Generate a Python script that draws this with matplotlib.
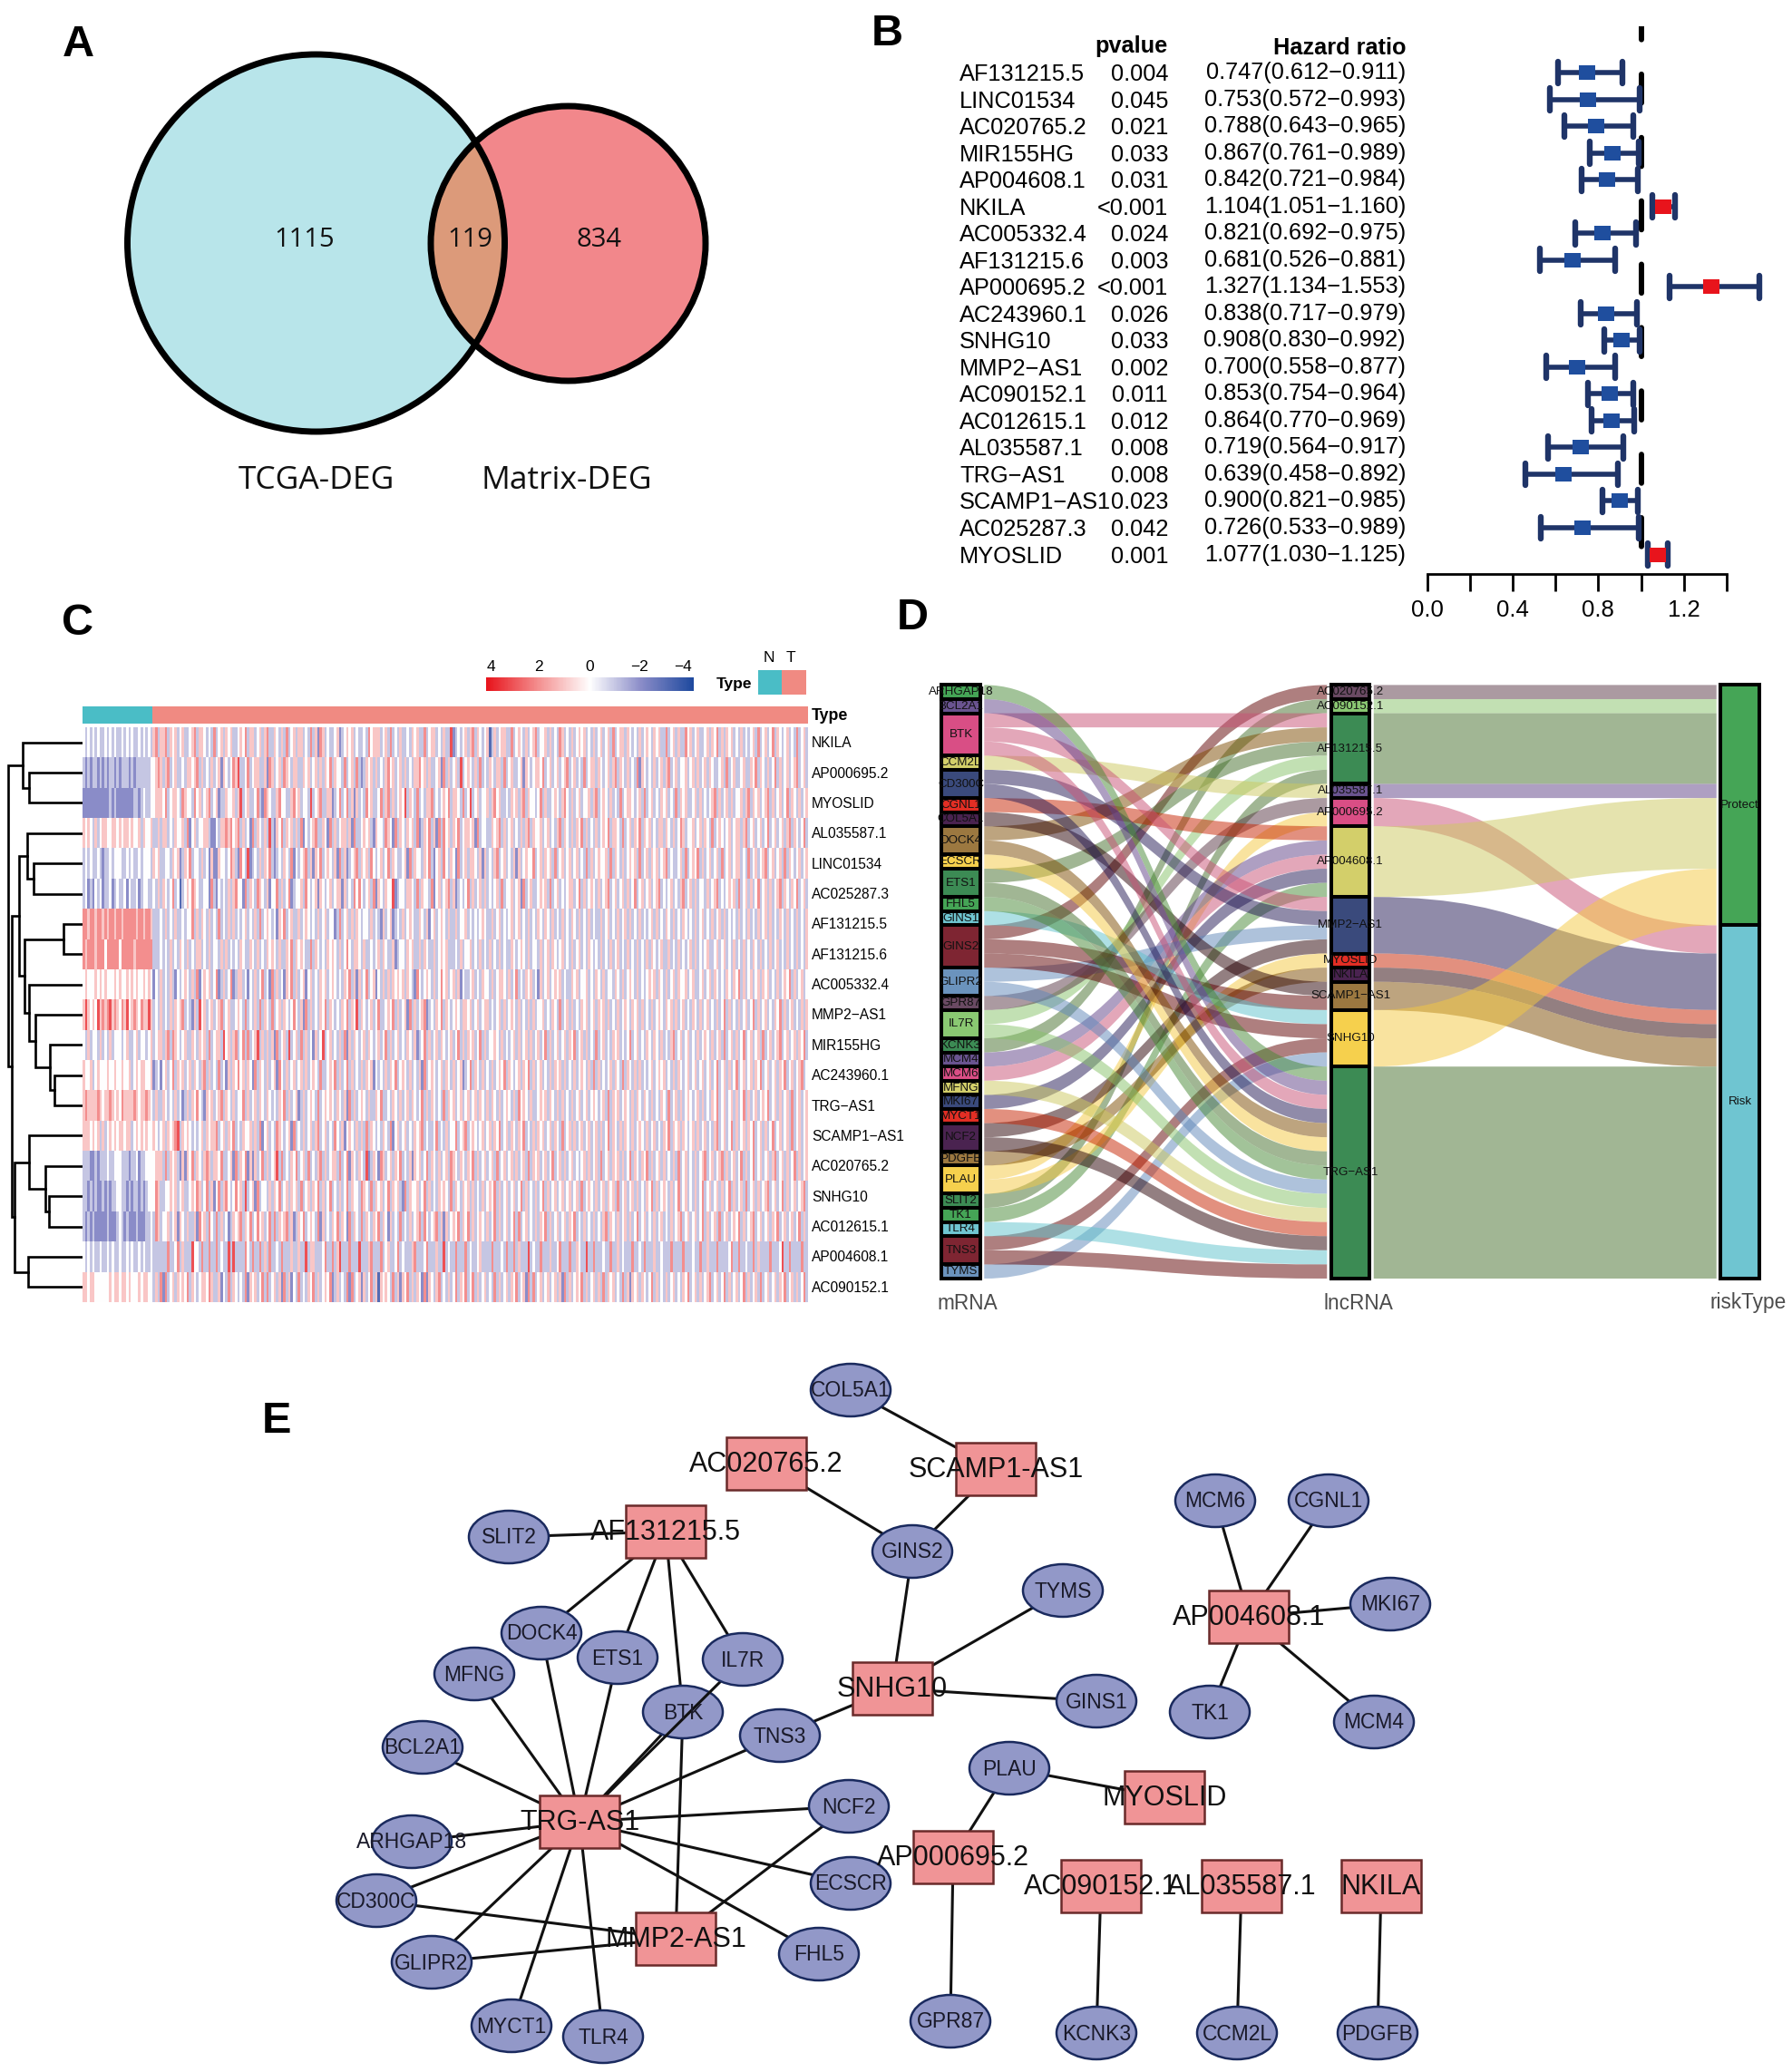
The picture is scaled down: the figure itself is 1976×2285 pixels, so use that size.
import matplotlib
matplotlib.use('Agg')
import matplotlib.pyplot as plt
import numpy as np
from matplotlib.colors import LinearSegmentedColormap, ListedColormap
from matplotlib.patches import Circle, Ellipse, PathPatch, Rectangle
from matplotlib.path import Path

plt.rcParams['font.family'] = ['Liberation Sans', 'DejaVu Sans']

W, H = 1976, 2285
MINUS = '\u2212'

# Panel A
venn_labels = ['TCGA-DEG', 'Matrix-DEG']
venn_counts = ['1115', '119', '834']

# Panel B
cox_genes = ['AF131215.5', 'LINC01534', 'AC020765.2', 'MIR155HG', 'AP004608.1', 'NKILA',
             'AC005332.4', 'AF131215.6', 'AP000695.2', 'AC243960.1', 'SNHG10', 'MMP2-AS1',
             'AC090152.1', 'AC012615.1', 'AL035587.1', 'TRG-AS1', 'SCAMP1-AS1', 'AC025287.3',
             'MYOSLID']
cox_p = ['0.004', '0.045', '0.021', '0.033', '0.031', '<0.001', '0.024', '0.003', '<0.001',
         '0.026', '0.033', '0.002', '0.011', '0.012', '0.008', '0.008', '0.023', '0.042', '0.001']
cox_hr = [0.747, 0.753, 0.788, 0.867, 0.842, 1.104, 0.821, 0.681, 1.327, 0.838, 0.908, 0.700,
          0.853, 0.864, 0.719, 0.639, 0.900, 0.726, 1.077]
cox_low = [0.612, 0.572, 0.643, 0.761, 0.721, 1.051, 0.692, 0.526, 1.134, 0.717, 0.830, 0.558,
           0.754, 0.770, 0.564, 0.458, 0.821, 0.533, 1.030]
cox_high = [0.911, 0.993, 0.965, 0.989, 0.984, 1.160, 0.975, 0.881, 1.553, 0.979, 0.992, 0.877,
            0.964, 0.969, 0.917, 0.892, 0.985, 0.989, 1.125]

# Panel C, one digit per column read by eye: 4 is zero, 0 is -4, 8 is +4
heat_genes = ['NKILA', 'AP000695.2', 'MYOSLID', 'AL035587.1', 'LINC01534', 'AC025287.3',
              'AF131215.5', 'AF131215.6', 'AC005332.4', 'MMP2-AS1', 'MIR155HG', 'AC243960.1',
              'TRG-AS1', 'SCAMP1-AS1', 'AC020765.2', 'SNHG10', 'AC012615.1', 'AP004608.1',
              'AC090152.1']
n_normal = 29
n_columns = 300
heat_rows = [
    '43434343343434334343433434343'
    '56355635453453345635543436345354533454635534535633543536345355343635265343345234545343343645553453634353343545336345534353372343453563543451353455336345435345634453534365343534545343534534536345535434353454354533634535336453453345354635354534353434536345346354345343634534534'
    '35436345345634534354635435463454353463545345634',
    '32323323232332323332323333334'
    '45653563453343554563534353452543465733463455335265345365435533545345353546354436345363235453534356453453534355645353345263534537345435363435435536345334525434554634534534563453436345535434535635435343625434353453563453445345353453543345363453345335463'
    '54353463534534563453534635434535463534535634534635345343563453534635434535463534',
    '22222222222323222222233234334'
    '45554634554365443645345634523354453573453346326543356443356453443734563355234634635253436453346356353454735436343556343454635543634734534453564533435453563544346353345435643534534453563454353436345543453634534354534363545334535343456353453534453563545'
    '34563534534635435345634534536345345354635434536345345346353453463543456345345634',
    '54543534554455454554544535445'
    '33535534354453624534455322435565645635342635435373254635453536243456335426353455352633454532544365426354354536235463526364535463455452634433545635345343535635445345343563543535463534353454635543634535463545343553543534653445345354363454345345535634534'
    '53463453453563543463534534635345343563453463545345634534635343546354534634534534',
    '34343343233434443343433434443'
    '54533443545235463443534252254434653264372343535463234354362434563525463454352635234563545364345346354334526354435463245364354263453554352534356345343525345446345354536345345345343635345445363543534545363453545345634334536345463534534536345345534'
    '36345345634534536354345345634534563453545346354345634535463453453463534563453453',
    '34232434233423433424334234433'
    '43535434634134546543344263243435356442635436543524463534623445364345254345345525343646434536254354472344355436354436245345635234346353453534345363445345263453345453634534345534635345435345634534535346345345345634345343563453534435345634345'
    '45363453534634535345635435463453453563453634534535463453463543534634536345345354635345346345',
    '66566566565665665666665665665'
    '33343534353343446353543534363435353434534353634543425463453353454343534534423634535354344353432534523435345433543524534543533534453434345433534534345345343534354354353435343543534353433534534353453534353434535343543534354343534534353453534'
    '34353435343534535343543534353435343543534534353435345343534353453534343534534353435345',
    '65666566646666646666656666666'
    '33343435343543534355343534435353434354335435343545435335463545433635434354543534643554353343453543352344354533535433534545333435344534353435343534335434543534435345354345343534534354343534353453435343534353543453353435343453534345334534'
    '53435343534354353435345343534353435435343534534353435345343534354353435343534534353435',
    '45444545454445454454545445454'
    '24353435324345435362454534623534623553424353463426353425463534524534354534543435463525346345243535354545354326434543534645345352433453435443534554353463435453425345345453433545344534354353443543534543534345453543534535445345334534535434'
    '35435463534534535453435345463534534535463453435453463534534635345345354353463534535434',
    '57545475656756546574565465575'
    '34353435354563432537453453456345334543634353635436345354346435263534354635434354635473543453463345463534526353456234354635434543554534534553434535345435343535344534354363453534354534535453534353454354535343534543545353453435435345343'
    '53463534353453463534534354635345343535463453453546345345354353463453534635345343546345345',
    '43534435343534443453345344345'
    '34553563654345335435453634553745356346363457353535263453734536353425347345343536253543453543453463534534354352346353453543453463535453463534454353434535345353453463534534535463453534363453435453434634534354354353435634534534353454353'
    '45363453534634534536345345634534535463453453463534534563453453463534536345345346353453',
    '54453454445445445445345455445'
    '23424534635453453543563534363425354645354263543534526435345345353454363345463534635343535452434353546345435343526345434535435345234635435343534546354345354635345343535453534353454353635343453543635435353434534545343535434534534534'
    '53463453534634534535463453453546345345634534536345345354635345345346353453463534534635',
    '56555565455654546555565455654'
    '35335434353423535464325453456354353446353453543543435463534523534543634545435435263534543533546334354353453543463535434363545345345345354353543534543536454353345453543535343534534534543453635453454353543543534354363453534543453534'
    '35463453453534635345345463453534536345345354634534534635345345363453534563453534635345',
    '55545453534545455455345454544'
    '54345354567354543434535455634535463435445353624534365434526343534535634534364352454353536354343543624534534354563433463435344634563454345345354634535435463435354534535436345353453453453534635435354353454353453435463545354345353453'
    '43563453463534535463453534634534536345345346353453546345345346353453463534534635345345',
    '33322323334334443332334233444'
    '45553635453252546354356535546334526354625253463534573634354634536343563534553634625435437235426534535463435254534635435345365435435463534534536345345353453635453453463453534534345353453634535453534635435463534535343536345343534'
    '56345345635345346353463453453563453534635345346354353453463534534536345345346354534534',
    '33232322323233443323233232344'
    '46533445453453345465346352463564346453734526344353546345354536345354635346343534635443654363545346354532635445346353435454363543545353435345463534534534635343534635345345345345363454353453545363453453534354635345435346345343'
    '53463453453534635345363453534563453463534534563453546345345346353453546345345363453534',
    '32323222223222343232223222334'
    '36534453452543533526453643635342354563546346453463635456352354634543625343546354263543635435463542534363435345636434563525345463546353454353463534534636345343535463534534535463435343534356354353453534634534353453435345634'
    '53453463534536345345463534563453453546345345346353453463534536345345463534534635345345',
    '43434334334343343343433434334'
    '33333363346353337443633633634337373333643633635363343633353353373553334633635733363337333563336345334634333563334633353373433633363433453333633343633635333734336333533463336335433733633343363353433363343633353343336333'
    '36333433633533363333463363343363533336333473363333633463353333643633363433353336333463363',
    '55455444444545545545444545544'
    '35362634535454635434554653352436354343625453463634535263524363435463534546235343626345253463515454363525463535426254356343534635463463534534363534535463452636345345345352635345463534535363545343635254535434635343534534'
    '35463453534563453463534534635345363453453546345353463534536345345463534534563453536345',
]

# Panel D and E share the same links between mRNA and lncRNA
lnc_links = {
    'AC020765.2': ['GINS2'],
    'AC090152.1': ['KCNK3'],
    'AF131215.5': ['BTK', 'DOCK4', 'ETS1', 'IL7R', 'SLIT2'],
    'AL035587.1': ['CCM2L'],
    'AP000695.2': ['GPR87', 'PLAU'],
    'AP004608.1': ['CGNL1', 'MCM4', 'MCM6', 'MKI67', 'TK1'],
    'MMP2-AS1': ['BTK', 'CD300C', 'GLIPR2', 'NCF2'],
    'MYOSLID': ['PLAU'],
    'NKILA': ['PDGFB'],
    'SCAMP1-AS1': ['COL5A1', 'GINS2'],
    'SNHG10': ['GINS1', 'GINS2', 'TNS3', 'TYMS'],
    'TRG-AS1': ['ARHGAP18', 'BCL2A1', 'BTK', 'CD300C', 'DOCK4', 'ECSCR', 'ETS1', 'FHL5',
                'GLIPR2', 'IL7R', 'MFNG', 'MYCT1', 'NCF2', 'TLR4', 'TNS3'],
}
protect_lnc = ['AC020765.2', 'AC090152.1', 'AF131215.5', 'AL035587.1', 'AP004608.1', 'SNHG10']
risk_lnc = ['AP000695.2', 'MMP2-AS1', 'MYOSLID', 'NKILA', 'SCAMP1-AS1', 'TRG-AS1']

# Panel E layout, in image pixels
lnc_x = {'AC020765.2': 845, 'AC090152.1': 1214, 'AF131215.5': 734, 'AL035587.1': 1369,
         'AP000695.2': 1051, 'AP004608.1': 1377, 'MMP2-AS1': 745, 'MYOSLID': 1284,
         'NKILA': 1523, 'SCAMP1-AS1': 1098, 'SNHG10': 984, 'TRG-AS1': 639}
lnc_y = {'AC020765.2': 1614, 'AC090152.1': 2080, 'AF131215.5': 1689, 'AL035587.1': 2080,
         'AP000695.2': 2048, 'AP004608.1': 1783, 'MMP2-AS1': 2138, 'MYOSLID': 1982,
         'NKILA': 2080, 'SCAMP1-AS1': 1620, 'SNHG10': 1862, 'TRG-AS1': 2009}
mrna_x = {'ARHGAP18': 454, 'BCL2A1': 466, 'BTK': 753, 'CCM2L': 1364, 'CD300C': 415, 'CGNL1': 1465,
          'COL5A1': 938, 'DOCK4': 597, 'ECSCR': 938, 'ETS1': 681, 'FHL5': 903, 'GINS1': 1209,
          'GINS2': 1006, 'GLIPR2': 476, 'GPR87': 1048, 'IL7R': 819, 'KCNK3': 1209, 'MCM4': 1515,
          'MCM6': 1340, 'MFNG': 523, 'MKI67': 1533, 'MYCT1': 564, 'NCF2': 936, 'PDGFB': 1519,
          'PLAU': 1113, 'SLIT2': 561, 'TK1': 1334, 'TLR4': 665, 'TNS3': 860, 'TYMS': 1172}
mrna_y = {'ARHGAP18': 2031, 'BCL2A1': 1927, 'BTK': 1888, 'CCM2L': 2242, 'CD300C': 2096, 'CGNL1': 1655,
          'COL5A1': 1533, 'DOCK4': 1801, 'ECSCR': 2077, 'ETS1': 1828, 'FHL5': 2155, 'GINS1': 1876,
          'GINS2': 1711, 'GLIPR2': 2164, 'GPR87': 2229, 'IL7R': 1830, 'KCNK3': 2242, 'MCM4': 1899,
          'MCM6': 1655, 'MFNG': 1846, 'MKI67': 1769, 'MYCT1': 2234, 'NCF2': 1992, 'PDGFB': 2242,
          'PLAU': 1950, 'SLIT2': 1695, 'TK1': 1888, 'TLR4': 2246, 'TNS3': 1914, 'TYMS': 1754}

# stratum colours for panel D
GREEN, PURPLE, PINK, KHAKI = '#45A556', '#6A5490', '#D94E85', '#D3CF6A'
NAVY, RED, DPURPLE, BROWN = '#3A4A7C', '#E22E24', '#4A2350', '#9C7840'
YELLOW, DGREEN, CYAN, MAROON = '#F6D04D', '#3C8B54', '#6FC5D1', '#7E2532'
STEEL, MAUVE, LGREEN = '#6B93BD', '#6A4A63', '#8AC872'
mrna_colors = [GREEN, PURPLE, PINK, KHAKI, NAVY, RED, DPURPLE, BROWN, YELLOW, DGREEN, GREEN, CYAN,
               MAROON, STEEL, MAUVE, LGREEN, DGREEN, PURPLE, PINK, KHAKI, NAVY, RED, DPURPLE, BROWN,
               YELLOW, DGREEN, GREEN, CYAN, MAROON, STEEL]
lnc_colors = [MAUVE, LGREEN, DGREEN, PURPLE, PINK, KHAKI, NAVY, RED, DPURPLE, BROWN, YELLOW, DGREEN]
risk_colors = [GREEN, CYAN]
# the bands look more muted than their strata
flow_colors = {GREEN: '#478935', PURPLE: '#5F4187', PINK: '#C95175', KHAKI: '#CDC95F', NAVY: '#231955',
               RED: '#C72300', DPURPLE: '#290005', BROWN: '#7D4B00', YELLOW: '#F5C941', DGREEN: '#456F2B',
               CYAN: '#5FC3CD', MAROON: '#5F0000', STEEL: '#5F87B9', MAUVE: '#593745', LGREEN: '#87C369'}


def px_axes(x0, y0, x1, y1):
    # axes placed by image pixels, y counted from the top
    return fig.add_axes([x0 / W, 1 - y1 / H, (x1 - x0) / W, (y1 - y0) / H])


def mdash(name):
    return name.replace('-', MINUS)


fig = plt.figure(figsize=(W / 100, H / 100), dpi=100)

# overlay in image pixels, used for free text, the venn and the network
ov = fig.add_axes([0, 0, 1, 1], zorder=5)
ov.set_xlim(0, W)
ov.set_ylim(H, 0)
ov.axis('off')
ov.patch.set_alpha(0)

for letter, lx, ly in [('A', 86, 50), ('B', 978, 38), ('C', 85, 688), ('D', 1006, 682), ('E', 305, 1568)]:
    ov.text(lx, ly, letter, fontsize=35, fontweight='bold', ha='center', va='center')

# ---- A: venn ----
left = Circle((348.5, 268), 208, facecolor='#B8E5EA', edgecolor='none')
right = Circle((626.5, 268.5), 151.5, facecolor='#F2878B', edgecolor='none')
ov.add_patch(left)
ov.add_patch(right)
overlap = Circle((348.5, 268), 208, facecolor='#DC9A7A', edgecolor='none')
ov.add_patch(overlap)
overlap.set_clip_path(Circle((626.5, 268.5), 151.5, transform=ov.transData))
for cx, cy, r in [(348.5, 268, 208), (626.5, 268.5, 151.5)]:
    ov.add_patch(Circle((cx, cy), r, facecolor='none', edgecolor='black', lw=5))
for text, tx in zip(venn_counts, [336, 518, 660]):
    ov.text(tx, 265, text, family='Open Sans', fontsize=21, ha='center', va='center', color='#111111')
for text, tx in zip(venn_labels, [349, 625]):
    ov.text(tx, 530, text, family='Open Sans', fontsize=25.5, ha='center', va='center', color='#111111')

# ---- B: forest plot ----
row0, row_step = 80, 29.53
ov.text(1288, 51, 'pvalue', fontsize=18.3, fontweight='bold', ha='right', va='center')
ov.text(1550, 53, 'Hazard ratio', fontsize=18.3, fontweight='bold', ha='right', va='center')
for i, gene in enumerate(cox_genes):
    ry = row0 + row_step * i
    ov.text(1058, ry + 2, mdash(gene), fontsize=18.3, ha='left', va='center')
    ov.text(1288, ry + 2, cox_p[i], fontsize=18.3, ha='right', va='center')
    ov.text(1550, ry, f'{cox_hr[i]:.3f}({cox_low[i]:.3f}{MINUS}{cox_high[i]:.3f})',
            fontsize=18.3, ha='right', va='center')

ax_b = px_axes(1573.5, 29, 1904, 633)
ax_b.set_xlim(0, 1.4)
ax_b.set_ylim((633 - row0) / row_step, (29 - row0) / row_step)
ax_b.patch.set_alpha(0)
ax_b.plot([1, 1], [(11.5 - row0) / row_step, (633 - row0) / row_step], color='black', lw=4.3,
          linestyle=(0, (5.3, 6.4)), dash_capstyle='round', zorder=1)
rows = np.arange(len(cox_genes))
box_w, box_h = 18 / 236.1, 16 / row_step
for i in rows:
    ax_b.plot([cox_low[i], cox_high[i]], [i, i], color='#1F3468', lw=4, clip_on=False, zorder=2,
              solid_capstyle='butt')
    for end in (cox_low[i], cox_high[i]):
        ax_b.plot([end, end], [i - 0.42, i + 0.42], color='#1F3468', lw=4.6, clip_on=False, zorder=2,
                  solid_capstyle='round')
box_colors = ['#E8141C' if hr > 1 else '#1F4E9E' for hr in cox_hr]
ax_b.barh(rows, [box_w] * len(rows), left=np.array(cox_hr) - box_w / 2, height=box_h,
          color=box_colors, zorder=3)
for side in ['top', 'left', 'right']:
    ax_b.spines[side].set_visible(False)
ax_b.spines['bottom'].set_linewidth(2)
ax_b.set_yticks([])
ax_b.set_xticks(np.arange(0, 1.41, 0.2))
ax_b.set_xticklabels(['0.0', '', '0.4', '', '0.8', '', '1.2', ''], fontsize=18.5)
ax_b.tick_params(axis='x', length=14, width=2, pad=6)

# ---- C: heatmap ----
heat = np.array([[int(c) - 4 for c in row.ljust(n_columns, '4')[:n_columns]] for row in heat_rows])
heat_cmap = LinearSegmentedColormap.from_list(
    'heat', ['#1F4A9F', '#8A8CC8', '#FFFFFF', '#F49090', '#E8141C'])
ax_c = px_axes(91, 802, 890, 1436)
ax_c.imshow(heat, aspect='auto', cmap=heat_cmap, vmin=-4, vmax=4, interpolation='nearest')
ax_c.axis('off')

ax_type = px_axes(91, 778.5, 890, 798)
type_cmap = ListedColormap(['#4ABDC6', '#F08A82'])
type_bar = np.array([[0] * n_normal + [1] * (n_columns - n_normal)])
ax_type.imshow(type_bar, aspect='auto', cmap=type_cmap, interpolation='nearest')
ax_type.axis('off')
ov.text(895, 789, 'Type', fontsize=12.8, fontweight='bold', ha='left', va='center')
row_h = (1436 - 802) / len(heat_genes)
for i, gene in enumerate(heat_genes):
    ov.text(895, 803 + row_h * (i + 0.5), mdash(gene), fontsize=11.2, ha='left', va='center')

# colour key
ax_key = px_axes(536, 747, 765, 762)
ax_key.imshow(np.linspace(4, -4, 200)[None, :], aspect='auto', cmap=heat_cmap, vmin=-4, vmax=4)
ax_key.axis('off')
for label, kx in zip(['4', '2', '0', MINUS + '2', MINUS + '4'], [541, 594, 650, 705, 753]):
    ov.text(kx, 735, label, fontsize=12.5, ha='center', va='center')
ax_key2 = px_axes(835.5, 739, 888, 766)
ax_key2.imshow(np.array([[0, 1]]), aspect='auto', cmap=type_cmap, interpolation='nearest')
ax_key2.axis('off')
ov.text(829, 754, 'Type', fontsize=12.5, fontweight='bold', ha='right', va='center')
ov.text(848, 726, 'N', fontsize=12.5, ha='center', va='center')
ov.text(872, 726, 'T', fontsize=12.5, ha='center', va='center')

# dendrogram: (merge height, upper branch, lower branch), leaves are row numbers
dendro = (82.3,
          (66.3, 0, (58.7, 1, 2)),
          (78.4,
           (70.2,
            (61.2, 3, (53.6, 4, 5)),
            (63.8, (21, 6, 7), (58.7, 8, (51.7, 9, (36.4, 10, (31.3, 11, 12)))))),
           (75.3,
            (58.7, 13, (40.8, 14, (37, 15, 16))),
            (60, 17, 18))))
ax_den = px_axes(6, 802, 91, 1436)
ax_den.set_xlim(85, 0)
ax_den.set_ylim(len(heat_genes), 0)
ax_den.axis('off')


def draw_branch(node):
    # returns height and row position of the node
    if isinstance(node, int):
        return 0, node + 0.5
    h, upper, lower = node
    h1, y1 = draw_branch(upper)
    h2, y2 = draw_branch(lower)
    ax_den.plot([h1, h, h, h2], [y1, y1, y2, y2], color='black', lw=1.9, solid_joinstyle='miter')
    return h, (y1 + y2) / 2


draw_branch(dendro)

# ---- D: alluvial ----
mrna_names = sorted({m for genes in lnc_links.values() for m in genes})
lnc_names = sorted(lnc_links)
risk_names = ['Protect', 'Risk']
mrna_count = {m: sum(m in genes for genes in lnc_links.values()) for m in mrna_names}
lnc_count = {l: len(lnc_links[l]) for l in lnc_names}
risk_count = {'Protect': sum(lnc_count[l] for l in protect_lnc),
              'Risk': sum(lnc_count[l] for l in risk_lnc)}
total = sum(lnc_count.values())

ax_d = px_axes(1030, 750, 1950, 1415)
unit = (1410 - 755.4) / total
ax_d.set_xlim(1 + (1030 - 1059.5) / 429.5, 1 + (1950 - 1059.5) / 429.5)
ax_d.set_ylim((1415 - 755.4) / unit, (750 - 755.4) / unit)
ax_d.axis('off')


def stratum_tops(names, counts):
    tops, y = {}, 0
    for name in names:
        tops[name] = y
        y += counts[name]
    return tops


mrna_top = stratum_tops(mrna_names, mrna_count)
lnc_top = stratum_tops(lnc_names, lnc_count)
risk_top = stratum_tops(risk_names, risk_count)


def flow(x0, y0, x1, y1, band, color):
    # band with a sigmoid centre, stacked in data units
    xm = (x0 + x1) / 2
    verts = [(x0, y0), (xm, y0), (xm, y1), (x1, y1),
             (x1, y1 + band), (xm, y1 + band), (xm, y0 + band), (x0, y0 + band), (x0, y0)]
    codes = [Path.MOVETO, Path.CURVE4, Path.CURVE4, Path.CURVE4,
             Path.LINETO, Path.CURVE4, Path.CURVE4, Path.CURVE4, Path.CLOSEPOLY]
    ax_d.add_patch(PathPatch(Path(verts, codes), facecolor=flow_colors[color], edgecolor='none', alpha=0.5))


gap = 0.06
mrna_used = dict.fromkeys(mrna_names, 0)
for l in lnc_names:
    for k, m in enumerate(lnc_links[l]):
        y_left = mrna_top[m] + mrna_used[m]
        mrna_used[m] += 1
        flow(1 + gap, y_left, 2 - gap, lnc_top[l] + k, 1, mrna_colors[mrna_names.index(m)])
risk_used = {'Protect': 0, 'Risk': 0}
for l in lnc_names:
    side = 'Protect' if l in protect_lnc else 'Risk'
    flow(2 + gap, lnc_top[l], 3 - gap, risk_top[side] + risk_used[side], lnc_count[l],
         lnc_colors[lnc_names.index(l)])
    risk_used[side] += lnc_count[l]

half_w = 0.05
for xpos, names, counts, tops, colors in [(1, mrna_names, mrna_count, mrna_top, mrna_colors),
                                          (2, lnc_names, lnc_count, lnc_top, lnc_colors),
                                          (3, risk_names, risk_count, risk_top, risk_colors)]:
    for name, color in zip(names, colors):
        ax_d.add_patch(Rectangle((xpos - half_w, tops[name]), 2 * half_w, counts[name], facecolor=color,
                                 edgecolor='black', lw=2.9, zorder=3))
        ax_d.text(xpos, tops[name] + counts[name] / 2, mdash(name), fontsize=9.6, ha='center',
                  va='center', color='#111111', zorder=4)
for label, tx in zip(['mRNA', 'lncRNA', 'riskType'], [1067, 1498, 1928]):
    ov.text(tx, 1437, label, fontsize=16.3, ha='center', va='center', color='#4D4D4D')

# ---- E: network ----
rect_w, rect_h = 88, 58
ell_w, ell_h = 88, 58
for l in lnc_names:
    for m in lnc_links[l]:
        over_btk = l == 'TRG-AS1' and m == 'IL7R'
        ov.plot([lnc_x[l], mrna_x[m]], [lnc_y[l], mrna_y[m]], color='#111111', lw=2.2,
                zorder=3.5 if over_btk else 2)
for m in mrna_names:
    # BTK sits under the IL7R edge
    ov.add_patch(Ellipse((mrna_x[m], mrna_y[m]), ell_w, ell_h, facecolor='#9298C8', edgecolor='#1A2A5E',
                         lw=1.8, zorder=3 if m == 'BTK' else 4))
    ov.text(mrna_x[m], mrna_y[m] + 1, m, fontsize=16.5, ha='center', va='center', color='#1A1A2A', zorder=6)
for l in lnc_names:
    ov.add_patch(Rectangle((lnc_x[l] - rect_w / 2, lnc_y[l] - rect_h / 2), rect_w, rect_h,
                           facecolor='#F09496', edgecolor='#6A2A2A', lw=1.8, zorder=4))
    ov.text(lnc_x[l], lnc_y[l] + 1, l, fontsize=22, ha='center', va='center', color='#111111', zorder=6)

plt.savefig('out.png', dpi=100)
